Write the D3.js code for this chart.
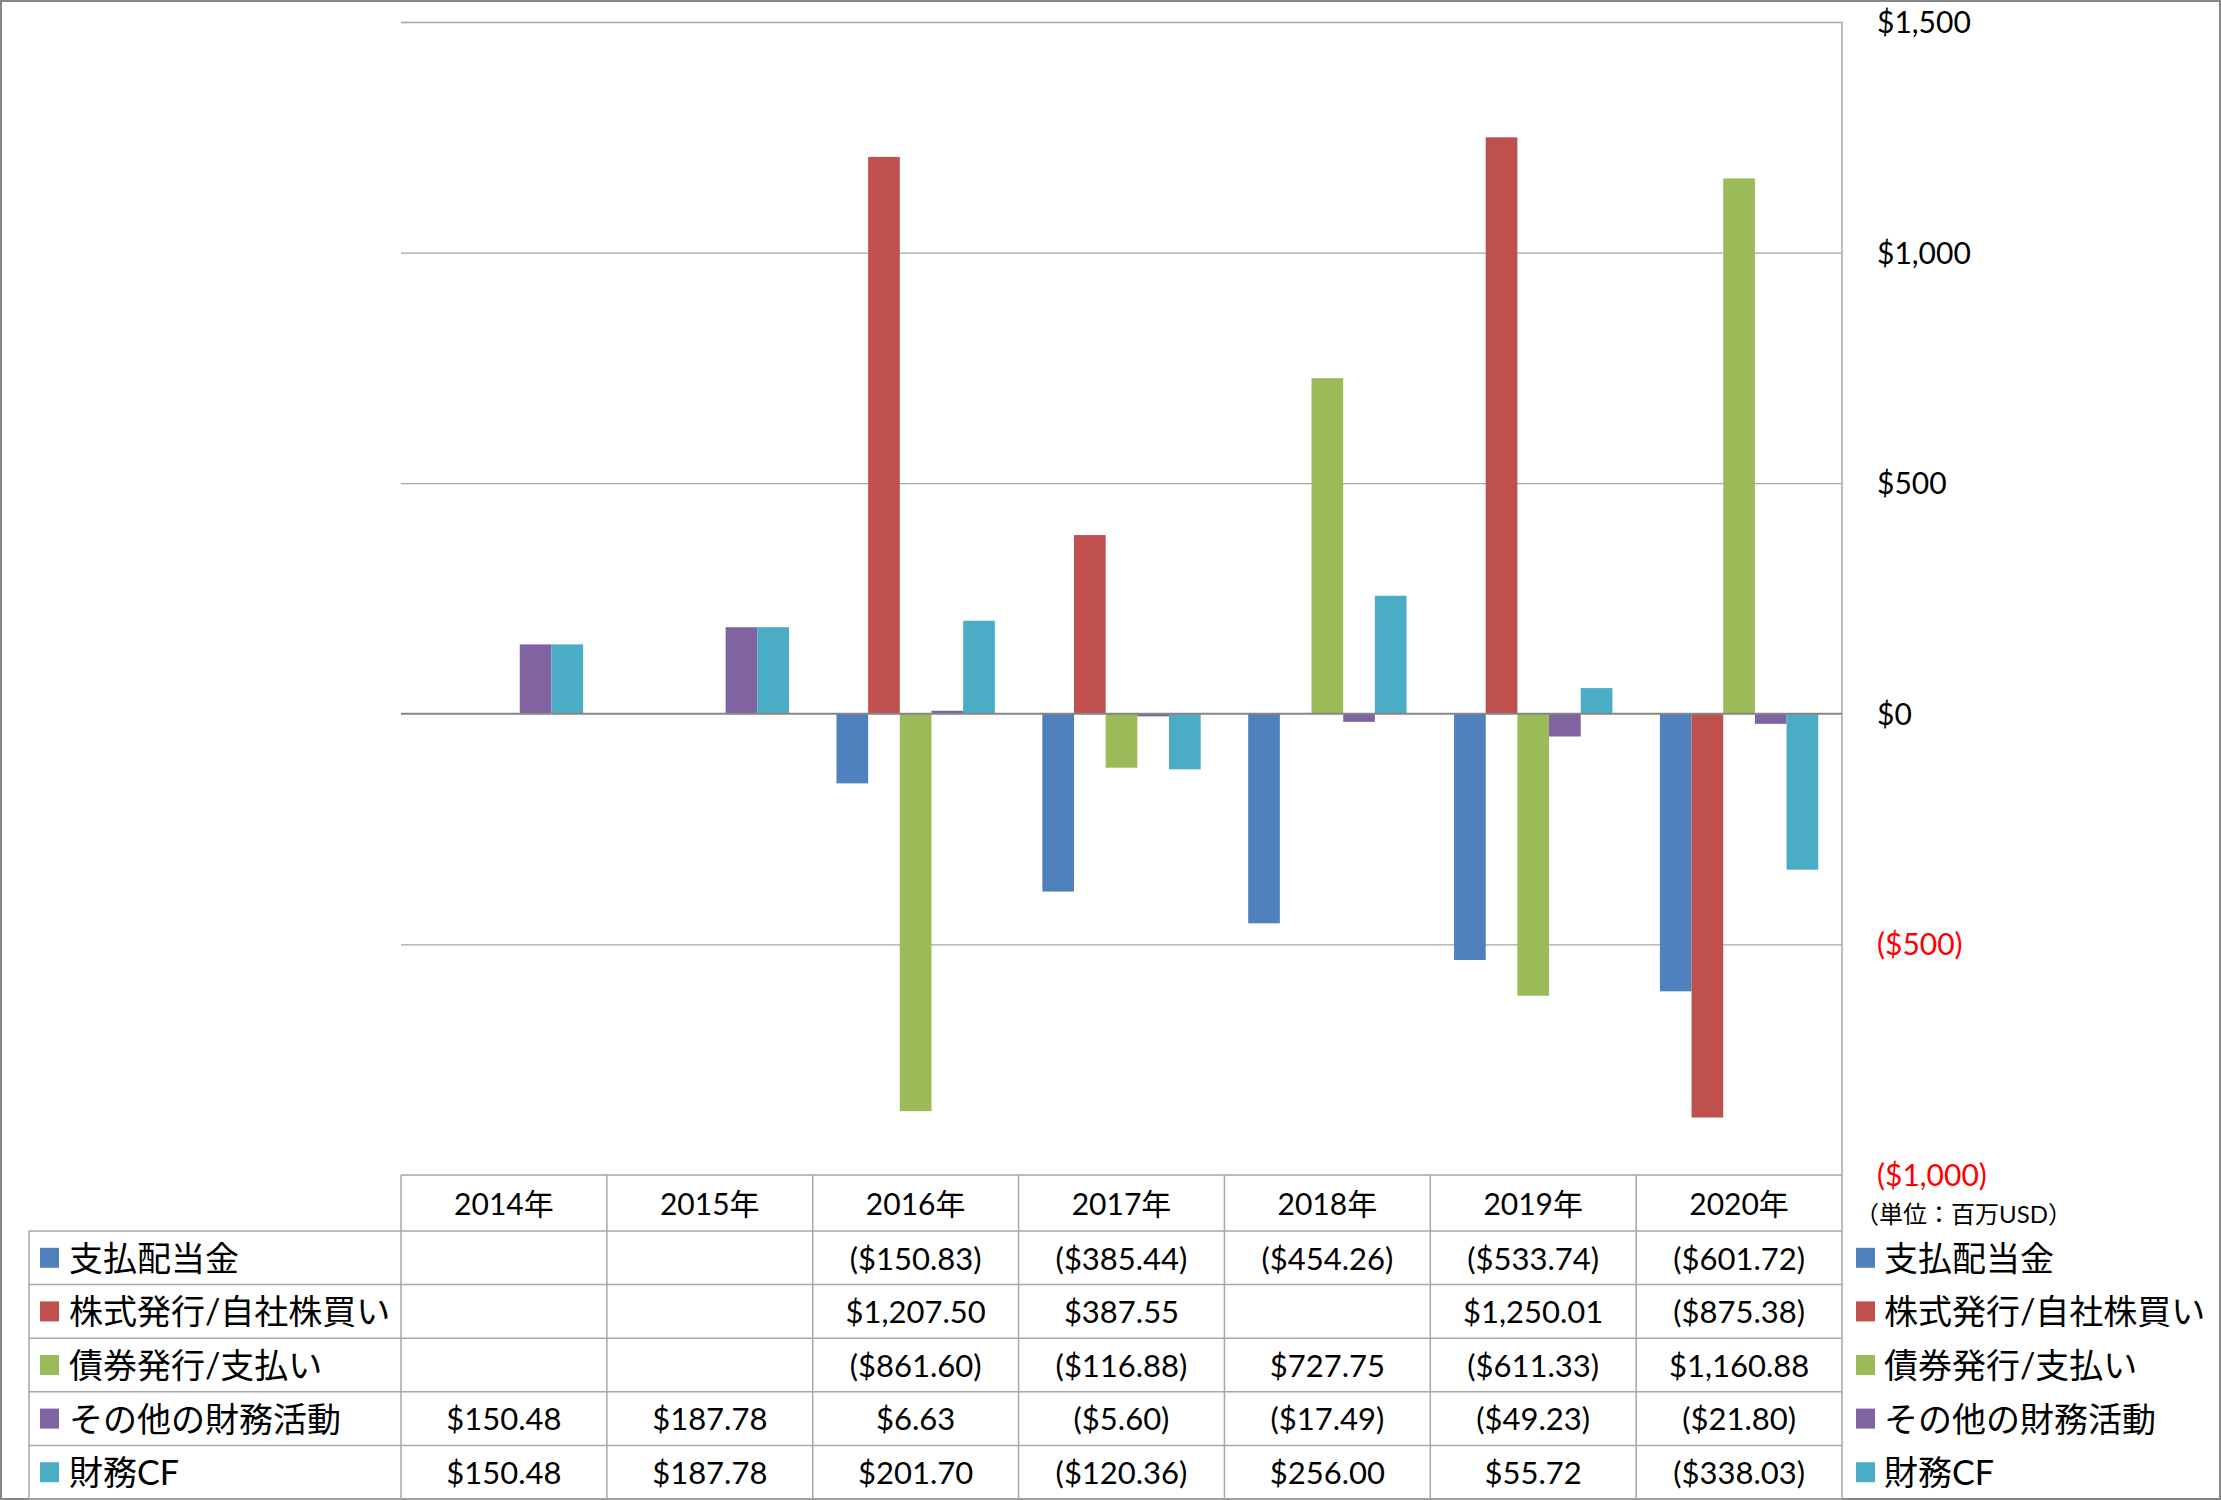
<!DOCTYPE html>
<html><head><meta charset="utf-8">
<script src="https://cdn.jsdelivr.net/npm/d3@7"></script>
<style>
body{margin:0;background:#fff;}
svg text{font-family:Lato,"Noto Sans CJK JP",sans-serif;}
</style></head>
<body>
<script>
const categories = ["2014年","2015年","2016年","2017年","2018年","2019年","2020年"];
const seriesNames = ["支払配当金","株式発行/自社株買い","債券発行/支払い","その他の財務活動","財務CF"];
const dividends   = [null, null, -150.83, -385.44, -454.26, -533.74, -601.72];
const equity      = [null, null, 1207.50, 387.55, null, 1250.01, -875.38];
const debt        = [null, null, -861.60, -116.88, 727.75, -611.33, 1160.88];
const otherFin    = [150.48, 187.78, 6.63, -5.60, -17.49, -49.23, -21.80];
const financingCF = [150.48, 187.78, 201.70, -120.36, 256.00, 55.72, -338.03];
const tickValues  = [-1000, -500, 0, 500, 1000, 1500];
const colors = ["#4F81BD","#C0504D","#9BBB59","#8064A2","#4BACC6"];
const seriesValues = [dividends, equity, debt, otherFin, financingCF];

const W = 2221, H = 1500;
const plotL = 401, plotR = 1842, plotT = 22, plotB = 1175;
const tableL = 29, rowH = 53.6, headerTop = 1175, headerBottom = 1231;

const svg = d3.select("body").append("svg").attr("width", W).attr("height", H);
svg.append("rect").attr("x",1).attr("y",1).attr("width",W-2).attr("height",H-2)
  .attr("fill","#fff").attr("stroke","#868686").attr("stroke-width",2);

const x = d3.scaleBand().domain(categories).range([plotL, plotR]).paddingInner(0).paddingOuter(0);
const xs = d3.scaleBand().domain(d3.range(seriesNames.length)).range([0, x.bandwidth()]).paddingInner(0).paddingOuter(0.75);
const y = d3.scaleLinear().domain([-1000, 1500]).range([plotB, plotT]);

// gridlines
svg.append("g").attr("transform",`translate(${plotL},0)`)
  .call(d3.axisLeft(y).tickValues(tickValues.filter(v=>v!==0 && v!==-1000)).tickSize(-(plotR-plotL)).tickFormat(""))
  .call(g=>{g.select(".domain").remove(); g.selectAll("line").attr("stroke","#a6a6a6").attr("stroke-width",1.3);});

// right value axis line
svg.append("line").attr("x1",plotR).attr("x2",plotR).attr("y1",plotT).attr("y2",plotB)
  .attr("stroke","#a6a6a6").attr("stroke-width",1.5);

const fmt = v => { const s = "$" + d3.format(",.2f")(Math.abs(v)); return v < 0 ? "(" + s + ")" : s; };
const tfmt = v => { const s = "$" + d3.format(",")(Math.abs(v)); return v < 0 ? "(" + s + ")" : s; };

// bars
seriesValues.forEach((vals, si) => {
  svg.append("g").selectAll("rect").data(categories.map((c,i)=>({c, v: vals[i]})).filter(d=>d.v!==null))
    .join("rect")
    .attr("x", d => x(d.c) + xs(si))
    .attr("width", xs.bandwidth())
    .attr("y", d => y(Math.max(0, d.v)))
    .attr("height", d => Math.abs(y(d.v) - y(0)))
    .attr("fill", colors[si]);
});

// zero axis
svg.append("line").attr("x1",plotL).attr("x2",plotR).attr("y1",y(0)).attr("y2",y(0))
  .attr("stroke","#868686").attr("stroke-width",2);

// value axis labels
const ax = svg.append("g").attr("transform",`translate(${plotR},0)`)
  .call(d3.axisRight(y).tickValues(tickValues).tickSize(0).tickPadding(35).tickFormat(tfmt));
ax.select(".domain").remove();
ax.selectAll("text").attr("font-size",30).attr("font-family","Lato,sans-serif")
  .attr("fill", d => d < 0 ? "#FF0000" : "#000").attr("text-anchor","start").attr("dy","0.35em");

svg.append("text").attr("x",1855).attr("y",1215).attr("dy","0.35em")
  .attr("font-size",24).attr("font-family","'Noto Sans CJK JP',sans-serif").text("（単位：百万USD）");

// data table
const tg = svg.append("g");
const lineC = "#a6a6a6";
tg.append("line").attr("x1",plotL).attr("x2",plotR).attr("y1",headerTop).attr("y2",headerTop).attr("stroke",lineC).attr("stroke-width",1.5);
for (let r=0; r<=seriesNames.length; r++){
  const yy = headerBottom + r*rowH;
  tg.append("line").attr("x1",tableL).attr("x2",plotR).attr("y1",yy).attr("y2",yy).attr("stroke",lineC).attr("stroke-width",1.5);
}
categories.forEach(c => {
  tg.append("line").attr("x1",x(c)).attr("x2",x(c)).attr("y1",headerTop).attr("y2",headerBottom+seriesNames.length*rowH).attr("stroke",lineC).attr("stroke-width",1.5);
});
tg.append("line").attr("x1",plotR).attr("x2",plotR).attr("y1",headerTop).attr("y2",headerBottom+seriesNames.length*rowH).attr("stroke",lineC).attr("stroke-width",1.5);
tg.append("line").attr("x1",tableL).attr("x2",tableL).attr("y1",headerBottom).attr("y2",headerBottom+seriesNames.length*rowH).attr("stroke",lineC).attr("stroke-width",1.5);

tg.selectAll("text.hdr").data(categories).join("text").attr("class","hdr")
  .attr("x", c => x(c) + x.bandwidth()/2).attr("y",(headerTop+headerBottom)/2+1).attr("dy","0.35em")
  .attr("text-anchor","middle").attr("font-size",30).text(c=>c);

seriesNames.forEach((name, si) => {
  const cy = headerBottom + si*rowH + rowH/2;
  tg.append("rect").attr("x",40).attr("y",cy-10).attr("width",19).attr("height",20).attr("fill",colors[si]);
  tg.append("text").attr("x",69).attr("y",cy+1).attr("dy","0.35em").attr("font-size",34).text(name);
  tg.append("rect").attr("x",1856).attr("y",cy-10).attr("width",19).attr("height",20).attr("fill",colors[si]);
  tg.append("text").attr("x",1884).attr("y",cy+1).attr("dy","0.35em").attr("font-size",34).text(name);
  tg.selectAll(null).data(categories.map((c,i)=>({c, v: seriesValues[si][i]})).filter(d=>d.v!==null))
    .join("text")
    .attr("x", d => x(d.c) + x.bandwidth()/2).attr("y", cy+1).attr("dy","0.35em")
    .attr("text-anchor","middle").attr("font-size",31).text(d => fmt(d.v));
});
</script>
</body></html>
